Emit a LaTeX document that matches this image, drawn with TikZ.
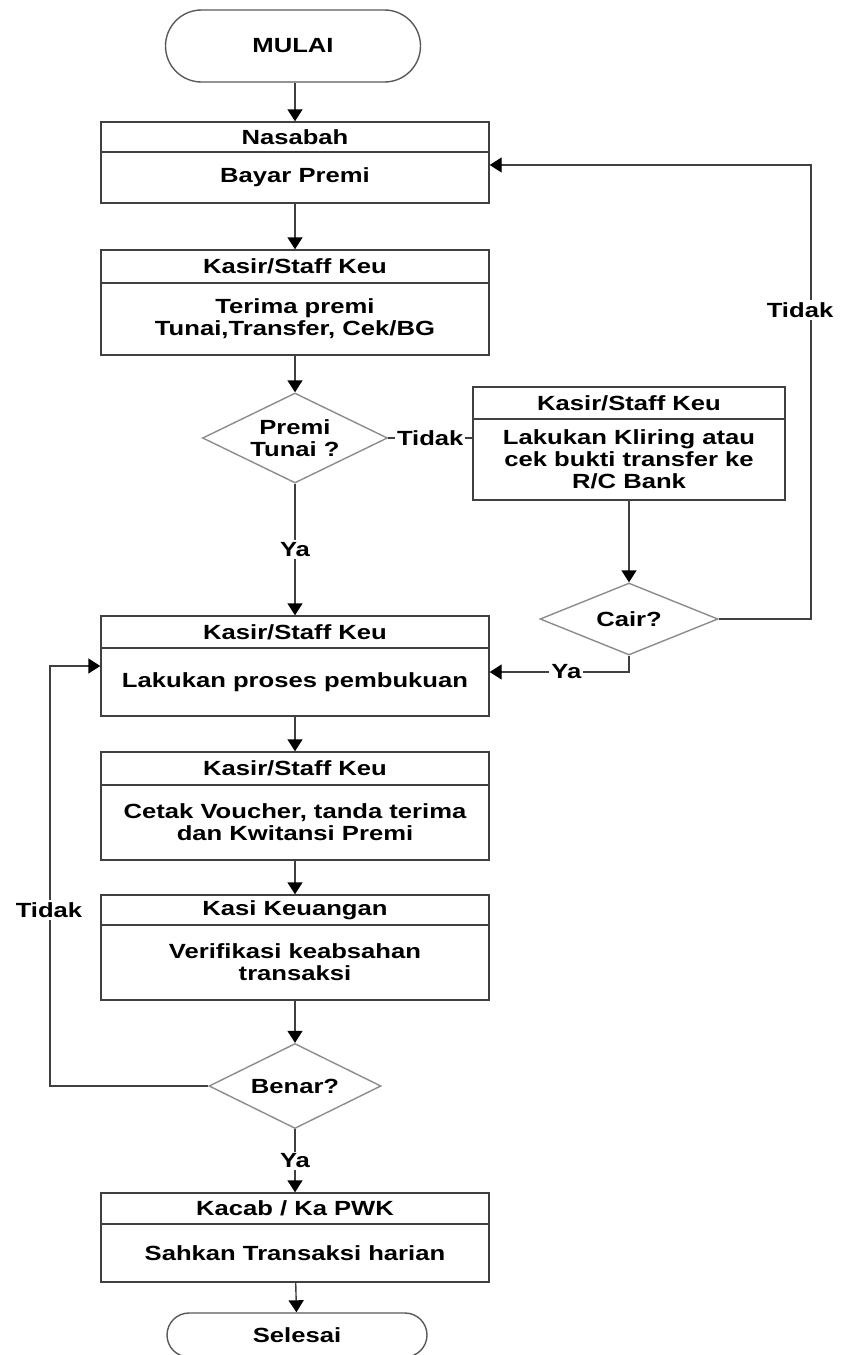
\documentclass[tikz,border=0pt]{standalone}
\usepackage{fontspec}
\setmainfont{Liberation Sans}[FakeStretch=1.25]
\usetikzlibrary{shapes.geometric,arrows.meta}

\begin{document}
\begin{tikzpicture}[
    x=1pt, y=-1pt,
    font=\fontsize{20.5}{22}\selectfont\bfseries,
    headnode/.style={draw=black!75, line width=1.4pt, minimum width=388pt, inner sep=0pt},
    bodynode/.style={draw=black!75, line width=1.4pt, minimum width=388pt, inner sep=0pt, align=center},
    termnode/.style={draw=black!65, line width=1.4pt, inner sep=0pt},
    decnode/.style={diamond, draw=black!45, line width=1.4pt, inner sep=0pt, aspect=2, align=center},
    labnode/.style={fill=white, inner sep=2pt},
    flowline/.style={draw=black!75, line width=1.4pt},
    flowarrow/.style={flowline, -{Triangle[width=15pt,length=12pt,color=black]}}
]
\useasboundingbox (0,0) rectangle (842,1355);

% Start
\node[termnode, minimum width=255pt, minimum height=72pt, rounded corners=36pt] (mulai) at (293,46) {MULAI};

% Nasabah
\node[headnode, minimum height=30pt] (nasabahH) at (295,137) {Nasabah};
\node[bodynode, minimum height=51pt] (nasabahB) at (295,177.5) {Bayar Premi};

% Kasir - terima premi
\node[headnode, minimum height=33pt] (terimaH) at (295,266.5) {Kasir/Staff Keu};
\node[bodynode, minimum height=72pt] (terimaB) at (295,319) {Terima premi\\Tunai,Transfer, Cek/BG};

% Premi tunai?
\node[decnode, minimum width=185pt, minimum height=90pt] (tunai) at (295,438) {Premi\\Tunai ?};

% Kliring
\node[headnode, minimum width=312pt, minimum height=32pt] (kliringH) at (629,403) {Kasir/Staff Keu};
\node[bodynode, minimum width=312pt, minimum height=81pt] (kliringB) at (629,459.5) {Lakukan Kliring atau\\cek bukti transfer ke\\R/C Bank};

% Cair?
\node[decnode, minimum width=178pt, minimum height=72pt] (cair) at (629,619) {Cair?};

% Pembukuan
\node[headnode, minimum height=32pt] (bukuH) at (295,632) {Kasir/Staff Keu};
\node[bodynode, minimum height=68pt] (bukuB) at (295,682) {Lakukan proses pembukuan};

% Cetak voucher
\node[headnode, minimum height=33pt] (cetakH) at (295,768.5) {Kasir/Staff Keu};
\node[bodynode, minimum height=75pt] (cetakB) at (295,822.5) {Cetak Voucher, tanda terima\\dan Kwitansi Premi};

% Verifikasi
\node[headnode, minimum height=30pt] (verifH) at (295,910) {Kasi Keuangan};
\node[bodynode, minimum height=75pt] (verifB) at (295,962.5) {Verifikasi keabsahan\\transaksi};

% Benar?
\node[decnode, minimum width=172pt, minimum height=85pt] (benar) at (295,1086) {Benar?};

% Sahkan
\node[headnode, minimum height=31pt] (sahkanH) at (295,1208.5) {Kacab / Ka PWK};
\node[bodynode, minimum height=58pt] (sahkanB) at (295,1253) {Sahkan Transaksi harian};

% End
\node[termnode, minimum width=260pt, minimum height=44pt, rounded corners=22pt] (selesai) at (297,1335) {Selesai};

% Main flow
\draw[flowarrow] (mulai.south -| nasabahH.north) -- (nasabahH.north);
\draw[flowarrow] (nasabahB) -- (terimaH);
\draw[flowarrow] (terimaB) -- (tunai);
\draw[flowarrow] (tunai) -- node[labnode] {Ya} (bukuH);
\draw[flowarrow] (bukuB) -- (cetakH);
\draw[flowarrow] (cetakB) -- (verifH);
\draw[flowarrow] (verifB) -- (benar);
\draw[flowarrow] (benar) -- node[labnode] {Ya} (sahkanH);
\draw[flowarrow] (sahkanB) -- (selesai);

% Non-cash branch
\draw[flowline] (tunai.east) -- node[labnode] {Tidak} (tunai.east -| kliringB.west);
\draw[flowarrow] (kliringB) -- (cair);

% Cair? no -> back to Bayar Premi
\coordinate (tidakTop) at (811,165);
\draw[flowarrow] (cair.east) -| (tidakTop) -- (tidakTop -| nasabahB.east);
\node[labnode] (tidakR) at (800,310) {Tidak};

% Cair? yes -> pembukuan
\coordinate (yaCair) at (629,672);
\draw[flowarrow] (cair.south) -- (yaCair) -- node[labnode, pos=0.45] {Ya} (yaCair -| bukuB.east);

% Benar? no -> back to pembukuan
\coordinate (tidakLeft) at (50,666);
\draw[flowarrow] (benar.west) -| (tidakLeft) -- (tidakLeft -| bukuB.west);
\node[labnode] (tidakL) at (49,910) {Tidak};

\end{tikzpicture}
\end{document}
